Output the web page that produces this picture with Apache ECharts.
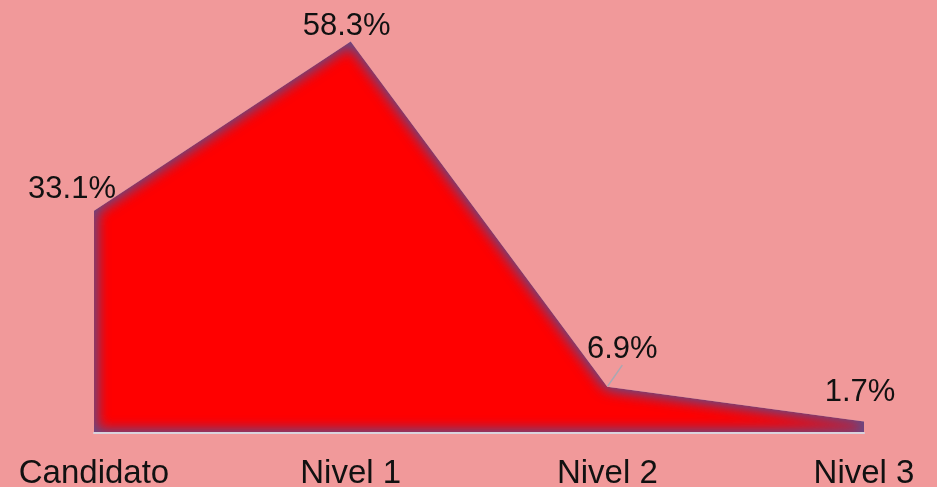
<!DOCTYPE html>
<html>
<head>
<meta charset="utf-8">
<script src="https://cdn.jsdelivr.net/npm/echarts@6/dist/echarts.min.js"></script>
<style>
  html, body { margin: 0; padding: 0; background: #F1999A; }
  #chart { width: 937px; height: 487px; }
</style>
</head>
<body>
<div id="chart"></div>
<script>
// Share of people at each level
const categories = ['Candidato', 'Nivel 1', 'Nivel 2', 'Nivel 3'];
const shares = [33.1, 58.3, 6.9, 1.7];
const shareLabels = ['33.1%', '58.3%', '6.9%', '1.7%'];

const BG = '#F1999A';
const FONT = '"Liberation Sans", Arial, sans-serif';

// Where each value label sits relative to its point (dx, dy)
const labelShifts = [[-22, -1], [-4, 5], [15, -17], [-4, -9]];

const chart = echarts.init(document.getElementById('chart'), null, { renderer: 'canvas' });

// Outline of the filled region, drawn as a hole in a big background-coloured
// sheet; the sheet's shadow falls inward and gives the edge its dark glow.
function glowOutline(params, api) {
  if (params.dataIndex !== 0) return null;
  const pts = shares.map((v, i) => api.coord([i, v]));
  const b0 = api.coord([0, 0]);
  const bN = api.coord([shares.length - 1, 0]);
  let hole = 'M' + b0[0] + ' ' + b0[1] + ' L' + bN[0] + ' ' + bN[1] + ' ';
  for (let i = pts.length - 1; i >= 0; i--) hole += 'L' + pts[i][0] + ' ' + pts[i][1] + ' ';
  hole += 'Z';
  const d = 'M-200 -200 L1200 -200 L1200 800 L-200 800 Z ' + hole;
  const sheet = {
    type: 'path',
    shape: { pathData: d },
    style: { fill: BG, shadowBlur: 15, shadowColor: 'rgba(98,76,138,1)' }
  };
  return { type: 'group', children: [sheet, echarts.util.clone(sheet)] };
}

chart.setOption({
  backgroundColor: BG,
  animation: false,
  grid: { left: 94, right: 73, top: 30, bottom: 54, containLabel: false, outerBoundsMode: 'none' },
  xAxis: {
    type: 'category',
    data: categories,
    boundaryGap: false,
    z: 10,
    axisLine: { show: true, lineStyle: { color: '#D9D2DC', width: 2 } },
    axisTick: { show: false },
    axisLabel: { fontSize: 33, color: '#111', fontFamily: FONT, margin: 24 },
    splitLine: { show: false }
  },
  yAxis: {
    type: 'value',
    min: 0,
    max: 60,
    show: false,
    splitLine: { show: false }
  },
  series: [
    {
      // the red filled region
      type: 'line',
      data: shares,
      z: 2,
      symbol: 'none',
      lineStyle: { width: 0 },
      areaStyle: { color: '#FF0000', opacity: 1 },
      silent: true
    },
    {
      type: 'custom',
      coordinateSystem: 'cartesian2d',
      data: shares.map((v, i) => [i, v]),
      z: 3,
      silent: true,
      renderItem: glowOutline
    },
    {
      // value labels
      type: 'line',
      data: shares.map((v, i) => {
        const item = { value: v };
        if (i === 2) item.labelLine = { show: true };
        return item;
      }),
      z: 10,
      symbol: 'circle',
      symbolSize: 1,
      showSymbol: true,
      itemStyle: { color: 'rgba(0,0,0,0)' },
      lineStyle: { width: 0, opacity: 0 },
      silent: true,
      label: {
        show: true,
        position: 'top',
        distance: 0,
        fontSize: 31,
        color: '#111',
        fontFamily: FONT,
        padding: [0, 0, 4, 0],
        formatter: (p) => shareLabels[p.dataIndex]
      },
      labelLine: { show: false, lineStyle: { color: '#A9A8B2', width: 1.5 } },
      labelLayout: (p) => ({ dx: labelShifts[p.dataIndex][0], dy: labelShifts[p.dataIndex][1] })
    }
  ]
});
</script>
</body>
</html>
